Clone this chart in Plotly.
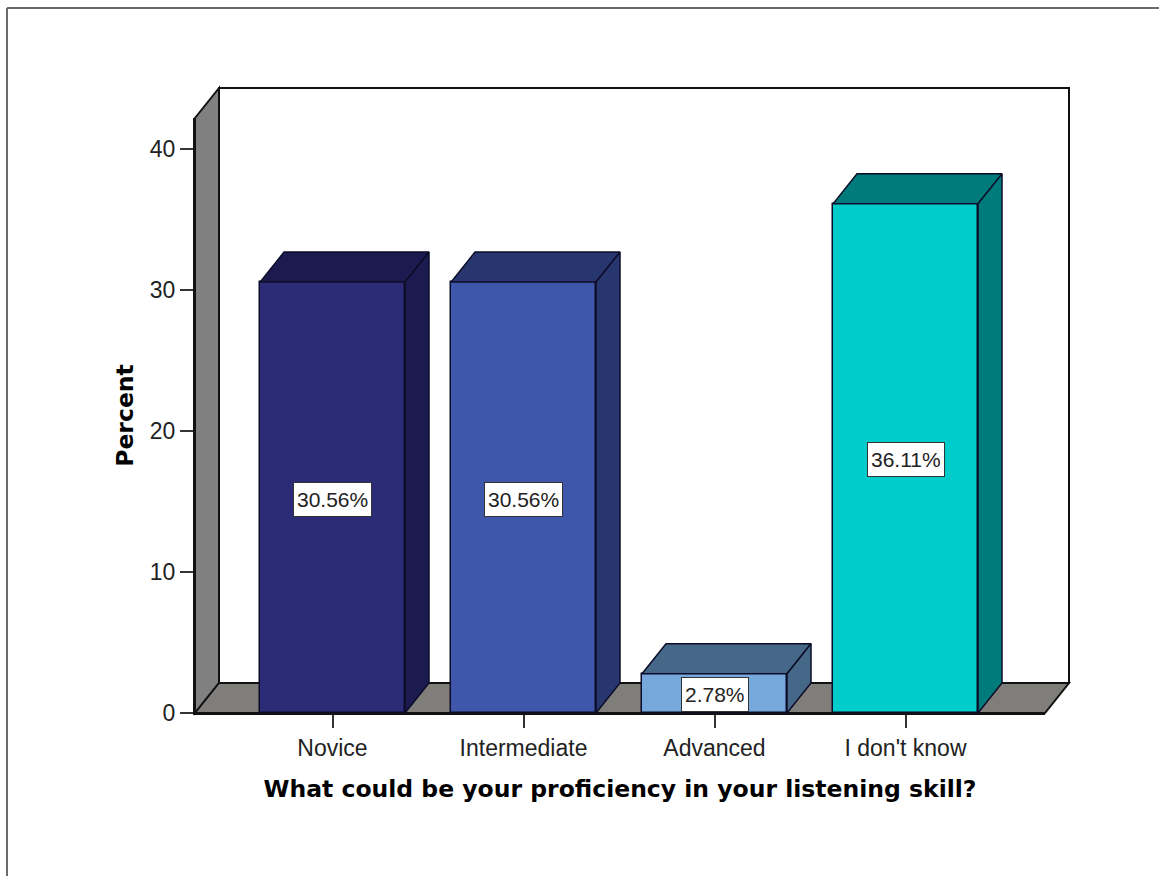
import plotly.graph_objects as go

categories = ["Novice", "Intermediate", "Advanced", "I don't know"]
percent = [30.56, 30.56, 2.78, 36.11]
labels = ["30.56%", "30.56%", "2.78%", "36.11%"]
front_colors = ["#2b2b78", "#3f57ab", "#76a8dc", "#00cccc"]
depth_colors = ["#1b1b50", "#27366e", "#456888", "#007b7b"]
y_ticks = [0, 10, 20, 30, 40]

W, H = 1159, 876
L, R, T, B = 195, 1045, 118, 713   # front plane of the chart, pixels
PX_PER_CAT = 191.0
PX_PER_PCT = 14.1
DX_PX, DY_PX = 24, 30
BAR_PX = 145
FIRST_CENTER_PX = 332.5

x_pos = list(range(len(categories)))
x_range = [(L - FIRST_CENTER_PX) / PX_PER_CAT, (R - FIRST_CENTER_PX) / PX_PER_CAT]
y_range = [0, (B - T) / PX_PER_PCT]
bw = BAR_PX / PX_PER_CAT
ddx = DX_PX / PX_PER_CAT
ddy = DY_PX / PX_PER_PCT
EDGE = "#0c0c28"

fig = go.Figure()
fig.add_trace(go.Bar(
    x=x_pos, y=percent, width=bw,
    marker=dict(color=front_colors, line=dict(color=EDGE, width=1.5)),
    showlegend=False, hoverinfo="skip",
))
for xc, v, c in zip(x_pos, percent, depth_colors):
    l, r = xc - bw / 2, xc + bw / 2
    fig.add_trace(go.Scatter(
        x=[l, l + ddx, r + ddx, r, l], y=[v, v + ddy, v + ddy, v, v],
        mode="lines", fill="toself", fillcolor=c,
        line=dict(color=EDGE, width=1.5), showlegend=False, hoverinfo="skip"))
    fig.add_trace(go.Scatter(
        x=[r, r + ddx, r + ddx, r, r], y=[0, ddy, v + ddy, v, 0],
        mode="lines", fill="toself", fillcolor=c,
        line=dict(color=EDGE, width=1.5), showlegend=False, hoverinfo="skip"))

pw, ph = R - L, B - T
dxp, dyp = DX_PX / pw, DY_PX / ph
wall_line = dict(color="#111111", width=2)
shapes = [
    dict(type="path", xref="paper", yref="paper", layer="below", fillcolor="#ffffff", line=wall_line,
         path=f"M {dxp} {dyp} L {1 + dxp} {dyp} L {1 + dxp} {1 + dyp} L {dxp} {1 + dyp} Z"),
    dict(type="path", xref="paper", yref="paper", layer="below", fillcolor="#808080", line=wall_line,
         path=f"M 0 0 L {dxp} {dyp} L {dxp} {1 + dyp} L 0 1 Z"),
    dict(type="path", xref="paper", yref="paper", layer="below", fillcolor="#807e7a", line=wall_line,
         path=f"M 0 0 L {dxp} {dyp} L {1 + dxp} {dyp} L 1 0 Z"),
]
# thin grey frame of the picture, top and left
fx = (7 - L) / pw
fy = (B - 8) / ph
fb = (B - H) / ph
fr = (W - L) / pw
frame = dict(color="#6a6a6a", width=2)
shapes.append(dict(type="line", xref="paper", yref="paper", x0=fx, x1=fr, y0=fy, y1=fy, line=frame))
shapes.append(dict(type="line", xref="paper", yref="paper", x0=fx, x1=fx, y0=fy, y1=fb, line=frame))

annotations = [
    dict(x=xc, y=v / 2, text=t, showarrow=False, yshift=-1.5, bgcolor="#ffffff", height=27,
         bordercolor="#333333", borderwidth=1, borderpad=3,
         font=dict(family="Liberation Sans", size=21, color="#222222"))
    for xc, v, t in zip(x_pos, percent, labels)
]

tick_font = dict(family="Liberation Sans", size=23, color="#222222")
title_font = dict(family="DejaVu Sans", size=23.5, color="#000000", weight="bold")

fig.update_layout(
    width=W, height=H, autosize=False,
    margin=dict(l=L, r=W - R, t=T, b=H - B, pad=0),
    paper_bgcolor="#ffffff", plot_bgcolor="rgba(0,0,0,0)",
    shapes=shapes, annotations=annotations, bargap=0,
    xaxis=dict(
        range=x_range, tickmode="array", tickvals=x_pos, ticktext=categories,
        showgrid=False, zeroline=False, showline=True, linecolor="#111111", linewidth=2,
        ticks="outside", ticklen=13, tickwidth=2, tickcolor="#333333", tickfont=tick_font,
        title=dict(text="What could be your proficiency in your listening skill?",
                   font=title_font, standoff=21),
    ),
    yaxis=dict(
        range=y_range, tickmode="array", tickvals=y_ticks,
        showgrid=False, zeroline=False, showline=True, linecolor="#111111", linewidth=2,
        ticks="outside", ticklen=13, tickwidth=2, tickcolor="#333333", tickfont=tick_font,
        title=dict(text="Percent", font=title_font, standoff=10),
    ),
)

fig.write_html("out.html", config={"displayModeBar": False},
               post_script="document.body.style.margin='0';document.body.style.overflow='hidden';window.dispatchEvent(new Event('resize'));")
